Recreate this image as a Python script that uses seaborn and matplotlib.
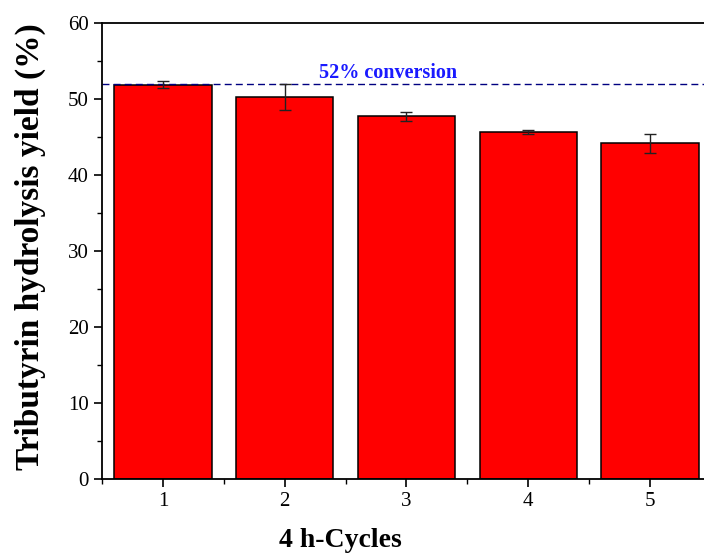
import matplotlib
matplotlib.use("Agg")
import matplotlib.pyplot as plt
import seaborn as sns
import pandas as pd
from matplotlib.ticker import MultipleLocator, FixedLocator

# Hydrolysis yield per 4 h reuse cycle
cycles = ["1", "2", "3", "4", "5"]
yield_pct = [51.9, 50.3, 47.7, 45.7, 44.2]
yield_err = [0.5, 1.7, 0.65, 0.25, 1.25]
reference_conversion = 52
reference_label = "52% conversion"

df = pd.DataFrame({"cycle": cycles, "yield": yield_pct})

sns.set_style("white")
plt.rcParams["font.family"] = ["Liberation Serif", "DejaVu Serif"]
plt.rcParams["text.color"] = "black"
plt.rcParams["axes.labelcolor"] = "black"

fig = plt.figure(figsize=(7.04, 5.56), dpi=100)
ax = fig.add_axes([0.1449, 0.1385, 0.865, 0.8201])

sns.barplot(data=df, x="cycle", y="yield", color="#ff0000", saturation=1,
            edgecolor="black", linewidth=1.1, width=0.8, errorbar=None, ax=ax)
ax.errorbar(range(len(cycles)), yield_pct, yerr=yield_err, fmt="none",
            ecolor="#222222", elinewidth=1.0, capsize=4.5, capthick=1.0, zorder=5)

ax.axhline(reference_conversion, color="#000080", linestyle=(0, (5, 3)), linewidth=1.0, zorder=1)
ax.text(1.85, reference_conversion + 0.1, reference_label, color="#1a1aff",
        fontsize=14.5, fontweight="bold", ha="center", va="bottom")

ax.set_xlim(-0.5, 4.5)
ax.set_ylim(0, 60)
ax.yaxis.set_major_locator(MultipleLocator(10))
ax.yaxis.set_minor_locator(MultipleLocator(5))
ax.xaxis.set_minor_locator(FixedLocator([-0.5, 0.5, 1.5, 2.5, 3.5, 4.5]))

for side in ["left", "bottom", "top"]:
    ax.spines[side].set_visible(True)
    ax.spines[side].set_color("black")
    ax.spines[side].set_linewidth(1.3)
ax.spines["right"].set_visible(False)

ax.tick_params(axis="both", which="major", direction="out", length=6, width=1.2,
               labelsize=15, colors="black", left=True, bottom=True)
ax.tick_params(axis="both", which="minor", direction="out", length=3.5, width=1.0,
               colors="black", left=True, bottom=True)

ax.set_xlabel("4 h-Cycles", fontsize=20, fontweight="bold", color="black")
ax.xaxis.set_label_coords(0.392, -0.134)
ax.xaxis.label.set_va("center")
ax.set_ylabel("Tributyrin hydrolysis yield (%)", fontsize=24, fontweight="bold", color="black")
ax.yaxis.set_label_coords(-0.118, 0.51)
ax.yaxis.label.set_va("center")

fig.savefig("out.png", dpi=100)
